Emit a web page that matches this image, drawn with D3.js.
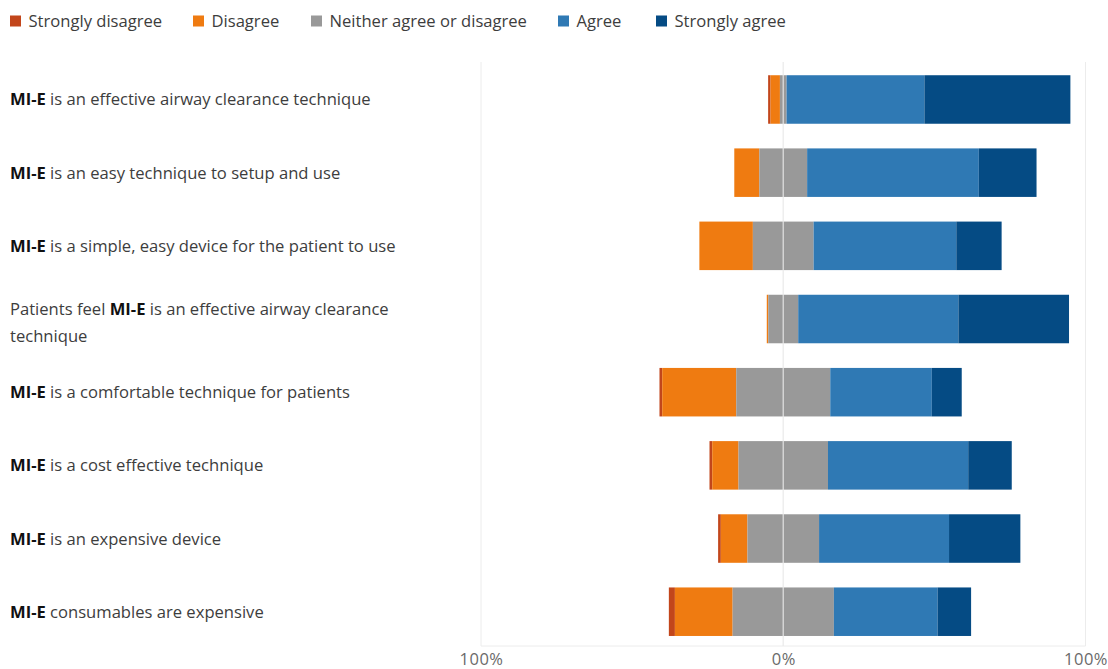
<!DOCTYPE html>
<html>
<head>
<meta charset="utf-8">
<script src="https://cdn.jsdelivr.net/npm/d3@7"></script>
<style>
  html, body { margin: 0; padding: 0; background: #fff; }
  svg { display: block; font-family: "Open Sans", "Noto Sans", sans-serif; }
</style>
</head>
<body>
<svg id="chart" width="1108" height="669"></svg>
<script>
// Survey statements (a "\n" marks a manual line break)
const categories = [
  "MI-E is an effective airway clearance technique",
  "MI-E is an easy technique to setup and use",
  "MI-E is a simple, easy device for the patient to use",
  "Patients feel MI-E is an effective airway clearance\ntechnique",
  "MI-E is a comfortable technique for patients",
  "MI-E is a cost effective technique",
  "MI-E is an expensive device",
  "MI-E consumables are expensive"
];

// Response shares, % of respondents
const stronglyDisagree = [0.8, 0, 0, 0, 0.9, 0.9, 0.9, 2.0];
const disagree         = [3.1, 8.3, 17.7, 0.5, 24.5, 8.7, 8.8, 19.1];
const neutral          = [2.2, 15.8, 20.1, 9.9, 31.1, 29.6, 23.7, 33.5];
const agree            = [45.6, 56.8, 47.2, 53.0, 33.6, 46.4, 43.0, 34.3];
const stronglyAgree    = [48.3, 19.1, 15.0, 36.6, 9.9, 14.4, 23.6, 11.1];

const seriesNames = ["Strongly disagree", "Disagree", "Neither agree or disagree", "Agree", "Strongly agree"];
const seriesColors = ["#c2461b", "#ef7b11", "#999999", "#2f79b4", "#054b84"];
const tickValues = [-100, 0, 100];

const seriesValues = [stronglyDisagree, disagree, neutral, agree, stronglyAgree];

const svg = d3.select("#chart");
const FONT = 16.6;

const x = d3.scaleLinear().domain([-100, 100]).range([481, 1085.5]);
const y = d3.scaleBand().domain(categories).range([62.9, 648.3])
  .paddingInner(0.337).paddingOuter(0.1685);

// Vertical gridlines at the outer ticks and bottom frame line
const grid = svg.append("g");
[-100, 100].forEach(v => {
  grid.append("line")
    .attr("x1", x(v)).attr("x2", x(v))
    .attr("y1", 62).attr("y2", 646)
    .attr("stroke", "#ececec").attr("stroke-width", 1);
});
grid.append("line")
  .attr("x1", x(-100)).attr("x2", x(100))
  .attr("y1", 646).attr("y2", 646)
  .attr("stroke", "#ececec").attr("stroke-width", 1);

// Build diverging segments: neutral is split evenly around zero
const segments = [];
categories.forEach((cat, i) => {
  let start = -(stronglyDisagree[i] + disagree[i] + neutral[i] / 2);
  seriesValues.forEach((vals, s) => {
    const v = vals[i];
    if (v > 0) segments.push({ cat, s, x0: start, x1: start + v });
    start += v;
  });
});

svg.append("g").selectAll("rect")
  .data(segments)
  .join("rect")
  .attr("x", d => x(d.x0))
  .attr("width", d => x(d.x1) - x(d.x0))
  .attr("y", d => y(d.cat))
  .attr("height", y.bandwidth())
  .attr("fill", d => seriesColors[d.s]);

// Zero line drawn over the bars
svg.append("line")
  .attr("x1", x(0)).attr("x2", x(0))
  .attr("y1", 62).attr("y2", 646)
  .attr("stroke", "#e8e8e8").attr("stroke-opacity", 0.75).attr("stroke-width", 1.5);

// Category labels with the device name in bold
const labelG = svg.append("g");
categories.forEach(cat => {
  const lines = cat.split("\n");
  const cy = y(cat) + y.bandwidth() / 2;
  const lh = 27;
  const t = labelG.append("text")
    .attr("font-size", FONT)
    .attr("fill", "#3d3d3d");
  lines.forEach((line, li) => {
    const baseY = cy + 6 + (li - (lines.length - 1) / 2) * lh + (lines.length > 1 ? 3 : 0);
    const row = t.append("tspan").attr("x", 10).attr("y", baseY);
    const parts = line.split("MI-E");
    parts.forEach((p, pi) => {
      if (p.length) row.append("tspan").text(p);
      if (pi < parts.length - 1) {
        row.append("tspan").attr("font-weight", "bold").attr("fill", "#111").text("MI-E");
      }
    });
  });
});

// Bottom axis labels
const axis = d3.axisBottom(x)
  .tickValues(tickValues)
  .tickFormat(d => Math.abs(d) + "%")
  .tickSize(0)
  .tickPadding(0);
const axisG = svg.append("g").attr("transform", "translate(0,653)").call(axis);
axisG.select(".domain").remove();
axisG.selectAll("text")
  .attr("font-family", "\"Open Sans\", \"Noto Sans\", sans-serif")
  .attr("font-size", 16.5)
  .attr("fill", "#6a6a6a")
  .attr("letter-spacing", 0.5);

// Legend
const swatchX = [10, 193, 311, 558, 656];
const legend = svg.append("g");
seriesNames.forEach((name, i) => {
  const g = legend.append("g").attr("transform", `translate(${swatchX[i]},15.5)`);
  g.append("rect").attr("width", 11).attr("height", 11).attr("fill", seriesColors[i]);
  g.append("text").attr("x", 18.5).attr("y", 11)
    .attr("font-size", FONT).attr("fill", "#3d3d3d").text(name);
});
</script>
</body>
</html>
